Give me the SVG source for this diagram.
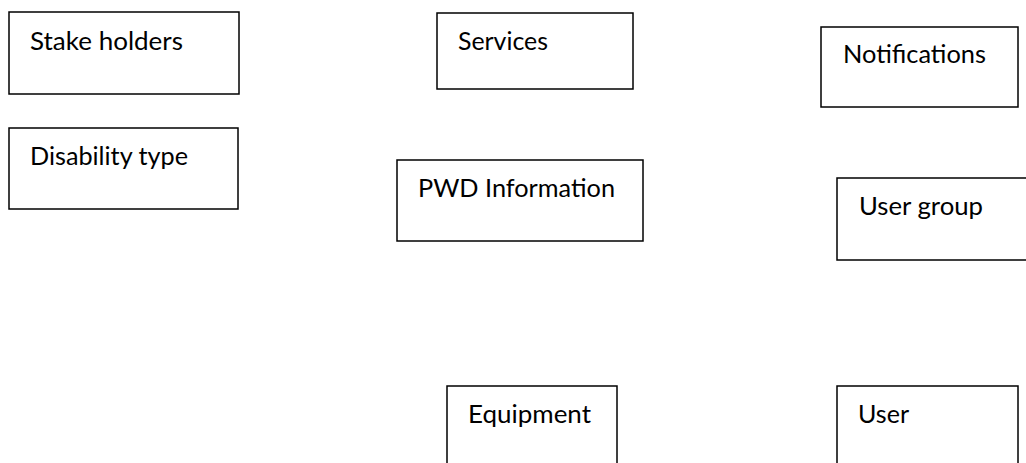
<svg xmlns="http://www.w3.org/2000/svg" width="1026" height="463" viewBox="0 0 1026 463">
<style>
rect.box{fill:#fff;stroke:#000;stroke-width:1.5}
text{font-family:Lato,"Open Sans","Liberation Sans",sans-serif;font-size:25.5px;fill:#000}
</style>
<rect width="1026" height="463" fill="#fff"/>
<g id="stakeholders"><rect class="box" x="9" y="12" width="230" height="82"/><text x="30" y="50" textLength="153" lengthAdjust="spacingAndGlyphs">Stake holders</text></g>
<g id="disabilitytype"><rect class="box" x="9" y="128" width="229" height="81"/><text x="30" y="165" textLength="158" lengthAdjust="spacingAndGlyphs">Disability type</text></g>
<g id="services"><rect class="box" x="437" y="13" width="196" height="76"/><text x="458" y="50" textLength="90" lengthAdjust="spacingAndGlyphs">Services</text></g>
<g id="pwdinformation"><rect class="box" x="397" y="160" width="246" height="81"/><text x="418" y="197" textLength="197" lengthAdjust="spacingAndGlyphs">PWD Information</text></g>
<g id="notifications"><rect class="box" x="821" y="27" width="197" height="80"/><text x="843" y="63" textLength="143" lengthAdjust="spacingAndGlyphs">Notifications</text></g>
<g id="usergroup"><rect class="box" x="837" y="178" width="200" height="82"/><text x="859" y="215" textLength="124" lengthAdjust="spacingAndGlyphs">User group</text></g>
<g id="equipment"><rect class="box" x="447" y="386" width="170" height="90"/><text x="468" y="423" textLength="123" lengthAdjust="spacingAndGlyphs">Equipment</text></g>
<g id="user"><rect class="box" x="837" y="386" width="181" height="90"/><text x="858" y="423" textLength="51" lengthAdjust="spacingAndGlyphs">User</text></g>
<g id="connectors"></g>
</svg>
